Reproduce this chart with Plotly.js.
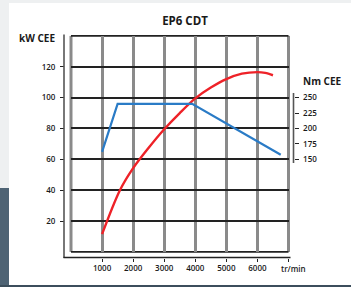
<!DOCTYPE html>
<html>
<head>
<meta charset="utf-8">
<script src="https://cdn.plot.ly/plotly-3.0.1.min.js"></script>
<style>
  html, body { margin:0; padding:0; }
  body { width:351px; height:287px; position:relative; overflow:hidden; background:#eef0f1; }
  #card { position:absolute; left:9px; top:3px; width:342px; height:282px; background:#ffffff; }
  #slate { position:absolute; left:0; top:188px; width:9px; height:99px; background:#4e6374; }
  #bottom { position:absolute; left:0; top:285px; width:351px; height:2px; background:#3c4e5c; }
  #chart { position:absolute; left:0; top:0; width:351px; height:287px; }
</style>
</head>
<body>
<div id="card"></div>
<div id="slate"></div>
<div id="bottom"></div>
<div id="chart"></div>
<script>
// ---- data ----
const powerRpm = [1000, 1575, 2000, 2500, 3000, 3500, 4000, 4500, 5000, 5500, 6000, 6250, 6500];
const powerKw  = [11.5, 40, 54.3, 67.5, 79.5, 90, 99.5, 106.5, 112, 115.5, 116.5, 116, 114.5];
const torqueRpm = [1000, 1500, 3900, 6750];
const torqueNm  = [162, 240, 240, 157.5];
const kwTicks = [20, 40, 60, 80, 100, 120];
const nmTicks = [150, 175, 200, 225, 250];
const rpmTicks = [1000, 2000, 3000, 4000, 5000, 6000, 7000];
const rpmLabels = ['1000', '2000', '3000', '4000', '5000', '6000', ''];

// ---- geometry (pixels) ----
const W = 351, H = 287;
const L = 63, R = 294, T = 35, B = 258;
const pw = R - L, ph = B - T;
const px = p => (p - L) / pw;
const py = p => (B - p) / ph;

const tickFont = {family: 'Open Sans', size: 8, color: '#1a1a1a', weight: 600};
const labFont = {family: 'Open Sans', size: 10, color: '#1a1a1a', weight: 700};
const gray = '#8a8a8a', black = '#222222';

const traces = [
  {x: torqueRpm, y: torqueNm, xaxis: 'x', yaxis: 'y2', mode: 'lines',
   line: {color: '#2a7bc6', width: 2.2}, hoverinfo: 'skip'},
  {x: powerRpm, y: powerKw, xaxis: 'x', yaxis: 'y', mode: 'lines',
   line: {color: '#ee2228', width: 2.4, shape: 'spline', smoothing: 0.9}, hoverinfo: 'skip'}
];

const frame = [
  {type:'line', xref:'x domain', yref:'y domain', x0:0, x1:0, y0:0, y1:1, line:{color:gray, width:3}, layer:'below'},
  {type:'line', xref:'x domain', yref:'y domain', x0:1, x1:1, y0:0, y1:1, line:{color:gray, width:3}, layer:'below'},
  {type:'line', xref:'x domain', yref:'y domain', x0:0, x1:1, y0:1, y1:1, line:{color:black, width:1.6}, layer:'below'},
  {type:'line', xref:'x domain', yref:'y domain', x0:0, x1:1, y0:0, y1:0, line:{color:black, width:1.6}, layer:'below'},
  // offset axis lines
  {type:'line', xref:'paper', yref:'paper', x0:px(64), x1:px(64), y0:py(258), y1:py(34.5), line:{color:'#555', width:1.6}},
  {type:'line', xref:'paper', yref:'paper', x0:px(63.5), x1:px(290.5), y0:py(257.5), y1:py(257.5), line:{color:black, width:1.4}},
  {type:'line', xref:'paper', yref:'paper', x0:px(293.5), x1:px(293.5), y0:py(163), y1:py(93), line:{color:'#555', width:1.6}}
];

const layout = {
  width: W, height: H,
  margin: {l: L, r: W - R, t: T, b: H - B, pad: 0},
  paper_bgcolor: 'rgba(0,0,0,0)', plot_bgcolor: 'rgba(0,0,0,0)',
  showlegend: false,
  title: {text: 'EP6 CDT', xref: 'container', yref: 'container', x: 185 / W, y: 1 - 21 / H,
          xanchor: 'center', yanchor: 'middle', font: {family: 'Open Sans', size: 11.5, color: '#1a1a1a', weight: 700}},
  xaxis: {domain: [px(71), px(288.5)], range: [0, 7000], anchor: 'free', position: py(257.5),
          tickvals: rpmTicks, ticktext: rpmLabels, ticks: 'outside', ticklen: 3, tickwidth: 1, tickcolor: black,
          showgrid: true, gridcolor: gray, gridwidth: 3, zeroline: false, showline: false,
          tickfont: tickFont, fixedrange: true},
  yaxis: {domain: [py(251.9), py(35.9)], range: [0, 140], anchor: 'free', position: px(64),
          tickvals: kwTicks, ticks: 'outside', ticklen: 4, tickwidth: 1, tickcolor: black,
          showgrid: true, gridcolor: black, gridwidth: 1.5, zeroline: false, showline: false,
          tickfont: tickFont, ticklabelstandoff: 3, fixedrange: true},
  yaxis2: {overlaying: 'y', range: [0, 350], anchor: 'free', position: px(293.5), side: 'right',
           tickvals: nmTicks, ticks: 'outside', ticklen: 4, tickwidth: 1, tickcolor: black,
           showgrid: false, zeroline: false, showline: false, tickfont: tickFont,
           ticklabelstandoff: 3, fixedrange: true},
  shapes: frame,
  annotations: [
    {text: 'kW CEE', xref: 'paper', yref: 'paper', x: px(37.3), y: py(38), xanchor: 'center', yanchor: 'middle', showarrow: false, font: labFont},
    {text: 'Nm CEE', xref: 'paper', yref: 'paper', x: px(322.8), y: py(80.5), xanchor: 'center', yanchor: 'middle', showarrow: false, font: labFont},
    {text: 'tr/min', xref: 'paper', yref: 'paper', x: px(293.5), y: py(268), xanchor: 'center', yanchor: 'middle', showarrow: false, font: tickFont}
  ]
};

Plotly.newPlot('chart', traces, layout, {displayModeBar: false});
</script>
</body>
</html>
